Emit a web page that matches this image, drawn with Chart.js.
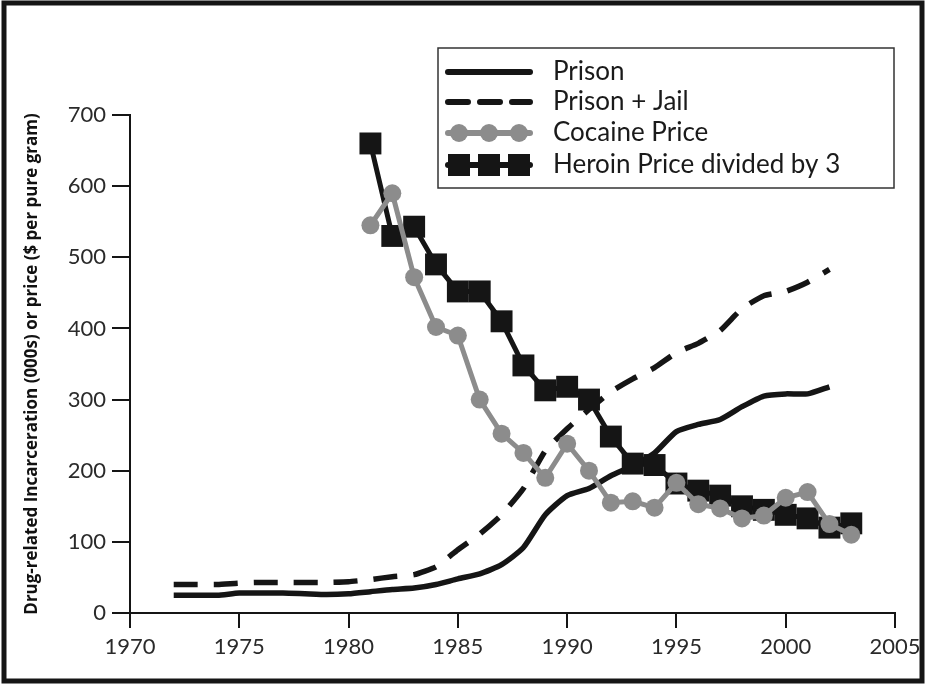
<!DOCTYPE html>
<html>
<head>
<meta charset="utf-8">
<script src="https://cdn.jsdelivr.net/npm/chart.js@4"></script>
<style>
  html, body { margin: 0; padding: 0; background: #fff; }
  #wrap { width: 928px; height: 685px; position: relative; }
</style>
</head>
<body>
<div id="wrap"><canvas id="drugChart" width="928" height="685"></canvas></div>
<script>
// incarceration, 1972-2002
const incYears = [1972, 1973, 1974, 1975, 1976, 1977, 1978, 1979, 1980, 1981, 1982, 1983, 1984, 1985, 1986, 1987,
    1988, 1989, 1990, 1991, 1992, 1993, 1994, 1995, 1996, 1997, 1998, 1999, 2000, 2001, 2002];
const prison = [25, 25, 25, 28, 28, 28, 27, 26, 27, 30, 33, 35, 40, 48, 55, 68,
    92, 138, 165, 175, 193, 207, 225, 255, 265, 272, 290, 305, 308, 308, 318];
const prisonJail = [40, 40, 40, 42, 43, 43, 43, 43, 44, 47, 51, 54, 65, 89, 111, 138,
    175, 228, 259, 286, 311, 329, 345, 366, 379, 397, 428, 446, 452, 465, 483];

// prices, 1981-2003
const priceYears = [1981, 1982, 1983, 1984, 1985, 1986, 1987, 1988, 1989, 1990, 1991, 1992,
    1993, 1994, 1995, 1996, 1997, 1998, 1999, 2000, 2001, 2002, 2003];
const cocaine = [545, 590, 472, 402, 390, 300, 252, 225, 190, 238, 200, 155,
    157, 148, 183, 153, 147, 133, 137, 162, 170, 125, 110];
const heroinDiv3 = [660, 530, 543, 490, 452, 452, 410, 348, 313, 318, 300, 248,
    210, 208, 182, 172, 165, 150, 145, 138, 133, 120, 126];

const seriesNames = ['Prison', 'Prison + Jail', 'Cocaine Price', 'Heroin Price divided by 3'];
const yTitle = 'Drug-related Incarceration (000s) or price ($ per pure gram)';

const INK = '#151515';
const GREY = '#8c8c8c';
const FONT = 'Lato, "Open Sans", sans-serif';

const pts = (xs, ys) => xs.map((x, i) => ({ x: x, y: ys[i] }));

// frame round the whole picture + the legend box
const extras = {
    id: 'extras',
    afterDraw(chart) {
        const c = chart.ctx;
        c.save();
        c.strokeStyle = INK;
        c.lineWidth = 5;
        c.strokeRect(4, 3, 918, 678);

        // legend
        const bx = 438, by = 48, bw = 456, bh = 140;
        c.fillStyle = '#fff';
        c.fillRect(bx, by, bw, bh);
        c.lineWidth = 1.5;
        c.strokeStyle = '#333';
        c.strokeRect(bx, by, bw, bh);

        const rowY = [72, 102, 133, 165];
        const x0 = 448, x1 = 530;
        c.font = '26px ' + FONT;
        c.textBaseline = 'middle';
        rowY.forEach((y, i) => {
            c.lineWidth = 6;
            c.lineCap = 'round';
            c.strokeStyle = i === 2 ? GREY : INK;
            c.setLineDash(i === 1 ? [20, 12] : []);
            c.beginPath();
            c.moveTo(x0, y);
            c.lineTo(x1, y);
            c.stroke();
            c.setLineDash([]);
            if (i === 2) {
                c.fillStyle = GREY;
                [459, 489, 519].forEach(px => { c.beginPath(); c.arc(px, y, 9, 0, Math.PI * 2); c.fill(); });
            }
            if (i === 3) {
                c.fillStyle = INK;
                [459, 489, 519].forEach(px => c.fillRect(px - 11, y - 11, 22, 22));
            }
            c.fillStyle = '#1a1a1a';
            c.fillText(seriesNames[i], 553, y);
        });
        c.restore();
    }
};

const ctx = document.getElementById('drugChart').getContext('2d');
new Chart(ctx, {
    type: 'line',
    data: {
        datasets: [{
            label: seriesNames[2],
            data: pts(priceYears, cocaine),
            borderColor: GREY,
            backgroundColor: GREY,
            borderWidth: 5,
            pointRadius: 9,
            pointStyle: 'circle',
            pointBorderWidth: 0,
            order: 0
        }, {
            label: seriesNames[3],
            data: pts(priceYears, heroinDiv3),
            borderColor: INK,
            backgroundColor: INK,
            borderWidth: 5,
            pointRadius: 15.5,
            pointStyle: 'rect',
            pointBorderWidth: 0,
            order: 1
        }, {
            label: seriesNames[0],
            data: pts(incYears, prison),
            borderColor: INK,
            borderWidth: 5.5,
            pointRadius: 0,
            tension: 0.2,
            order: 2
        }, {
            label: seriesNames[1],
            data: pts(incYears, prisonJail),
            borderColor: INK,
            borderWidth: 5.5,
            borderDash: [24, 16],
            pointRadius: 0,
            tension: 0.15,
            order: 3
        }]
    },
    options: {
        responsive: false,
        animation: false,
        layout: { padding: { top: 115, right: 33, left: 0, bottom: 0 } },
        plugins: {
            legend: { display: false },
            tooltip: { enabled: false }
        },
        scales: {
            x: {
                type: 'linear',
                min: 1970,
                max: 2005,
                afterFit: s => { s.height = 72; },
                ticks: {
                    stepSize: 5,
                    padding: 6,
                    color: '#2a2a2a',
                    font: { family: FONT, size: 22 },
                    callback: v => String(v)
                },
                grid: { drawOnChartArea: false, drawTicks: true, tickLength: 15, color: INK, lineWidth: 2 },
                border: { display: true, color: INK, width: 2 }
            },
            y: {
                min: 0,
                max: 700,
                afterFit: s => { s.width = 130; },
                ticks: {
                    stepSize: 100,
                    padding: 6,
                    color: '#2a2a2a',
                    font: { family: FONT, size: 22 }
                },
                title: {
                    display: true,
                    text: yTitle,
                    color: '#111',
                    font: { family: '"Open Sans", sans-serif', size: 17, weight: 'bold' },
                    padding: { top: 22, bottom: 0 }
                },
                grid: { drawOnChartArea: false, drawTicks: true, tickLength: 18, color: INK, lineWidth: 2 },
                border: { display: true, color: INK, width: 2 }
            }
        }
    },
    plugins: [extras]
});
</script>
</body>
</html>
